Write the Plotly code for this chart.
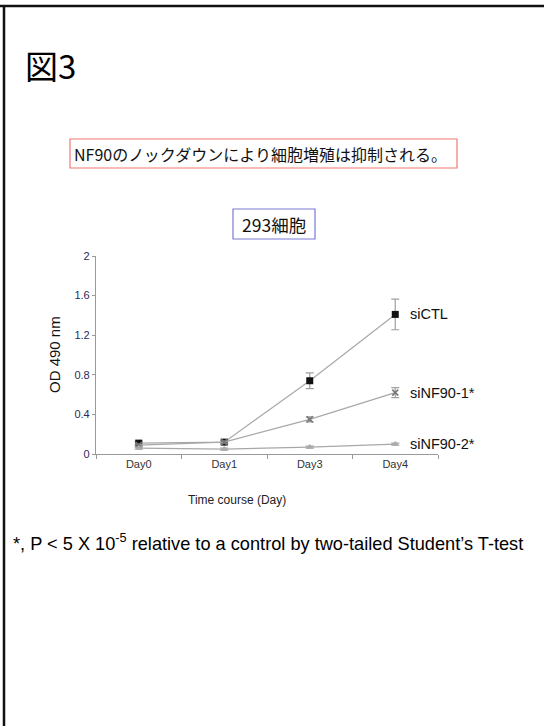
import plotly.graph_objects as go

days = ["Day0", "Day1", "Day3", "Day4"]
si_ctl = [0.11, 0.12, 0.74, 1.41]
si_ctl_err = [0.02, 0.02, 0.08, 0.155]
si_nf90_1 = [0.09, 0.12, 0.35, 0.62]
si_nf90_1_err = [0.01, 0.01, 0.025, 0.05]
si_nf90_2 = [0.06, 0.05, 0.07, 0.10]
si_nf90_2_err = [0.01, 0.01, 0.01, 0.01]
y_ticks = [0, 0.4, 0.8, 1.2, 1.6, 2]
y_tick_text = ["0", "0.4", "0.8", "1.2", "1.6", "2"]

FONT = "Liberation Sans, Arial, Noto Sans CJK JP, sans-serif"
JP = "Noto Sans CJK JP, Liberation Sans, sans-serif"

W, H = 544, 726
L, R, T, B = 96, 438, 256, 454


def px(x):
    return (x - L) / (R - L)


def py(y):
    return (B - y) / (B - T)


fig = go.Figure()

series = [
    ("siCTL", si_ctl, si_ctl_err, dict(symbol="square", size=7, color="#111111")),
    ("siNF90-1*", si_nf90_1, si_nf90_1_err, dict(symbol="x-thin-open", size=6, color="#777777", line=dict(width=1.5, color="#777777"))),
    ("siNF90-2*", si_nf90_2, si_nf90_2_err, dict(symbol="triangle-up", size=6, color="#aaaaaa")),
]
for name, vals, err, marker in series:
    fig.add_trace(go.Scatter(
        x=days, y=vals, mode="lines+markers", name=name,
        line=dict(color="#a8a8a8", width=1.2),
        marker=marker,
        error_y=dict(type="data", array=err, visible=True, color="#a0a0a0", thickness=1.2, width=4),
        showlegend=False,
    ))

labels = [("siCTL", si_ctl[3]), ("siNF90-1*", si_nf90_1[3]), ("siNF90-2*", si_nf90_2[3])]
annotations = []
for text, v in labels:
    annotations.append(dict(x="Day4", y=v, xref="x", yref="y", text=text, showarrow=False,
                            xanchor="left", yanchor="middle", xshift=13,
                            font=dict(family=FONT, size=14.5, color="#111111")))

annotations += [
    dict(x=px(23), y=py(65), xref="paper", yref="paper", text="図3", showarrow=False,
         xanchor="left", yanchor="middle", font=dict(family=JP, size=33, color="#000000")),
    dict(x=px(260), y=py(153.5), xref="paper", yref="paper",
         text="NF90のノックダウンにより細胞増殖は抑制される。", showarrow=False,
         xanchor="center", yanchor="middle", font=dict(family=JP, size=16, color="#111111")),
    dict(x=px(274), y=py(224), xref="paper", yref="paper", text="293細胞", showarrow=False,
         xanchor="center", yanchor="middle", font=dict(family=JP, size=17.5, color="#111111")),
    dict(x=px(54), y=py(355), xref="paper", yref="paper", text="OD 490 nm", showarrow=False,
         textangle=-90, xanchor="center", yanchor="middle", font=dict(family=FONT, size=15, color="#111111")),
    dict(x=px(237), y=py(500), xref="paper", yref="paper", text="Time course (Day)", showarrow=False,
         xanchor="center", yanchor="middle", font=dict(family=FONT, size=12, color="#222222")),
    dict(x=px(11), y=py(542), xref="paper", yref="paper",
         text="*, P < 5 X 10<sup>-5</sup> relative to a control by two-tailed Student’s T-test", showarrow=False,
         xanchor="left", yanchor="middle", font=dict(family=FONT, size=18.2, color="#000000")),
]

shapes = [
    dict(type="line", xref="paper", yref="paper", x0=px(0), x1=px(W), y0=py(6), y1=py(6),
         line=dict(color="#111111", width=2.5)),
    dict(type="line", xref="paper", yref="paper", x0=px(4), x1=px(4), y0=py(5), y1=py(H),
         line=dict(color="#111111", width=2.5)),
    dict(type="rect", xref="paper", yref="paper", x0=px(70), x1=px(457), y0=py(168), y1=py(139),
         line=dict(color="#f07a72", width=1.2)),
    dict(type="rect", xref="paper", yref="paper", x0=px(233), x1=px(315), y0=py(239), y1=py(209),
         line=dict(color="#7b7bd6", width=1.2)),
]

fig.update_layout(
    width=W, height=H,
    margin=dict(l=L, r=W - R, t=T, b=H - B, pad=0),
    paper_bgcolor="white", plot_bgcolor="white",
    font=dict(family=FONT),
    annotations=annotations, shapes=shapes,
    xaxis=dict(type="category", range=[-0.5, 3.5], showline=True, linecolor="#9a9a9a", linewidth=1.2,
               ticks="outside", tickson="boundaries", ticklen=4, tickcolor="#9a9a9a",
               showgrid=False, zeroline=False,
               tickfont=dict(family=FONT, size=11, color="#333333")),
    yaxis=dict(range=[0, 2], tickvals=y_ticks, ticktext=y_tick_text, showline=True, linecolor="#9a9a9a",
               linewidth=1.2, ticks="outside", ticklen=3, tickcolor="#9a9a9a",
               showgrid=False, zeroline=False,
               tickfont=dict(family=FONT, size=11, color="#2a2a55")),
)

fig.write_html("out.html", config={"displayModeBar": False},
               post_script="document.body.style.margin='0px';document.body.style.overflow='hidden';")
